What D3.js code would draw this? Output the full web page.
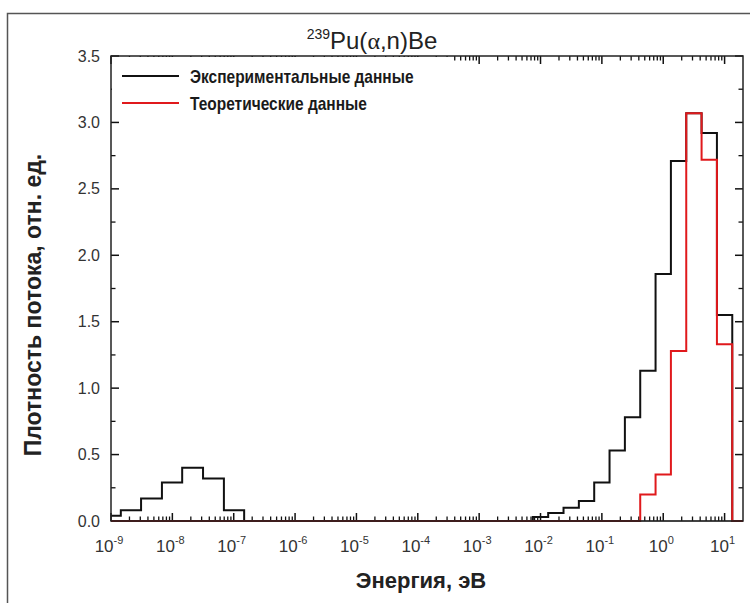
<!DOCTYPE html>
<html>
<head>
<meta charset="utf-8">
<script src="https://cdn.jsdelivr.net/npm/d3@7"></script>
<style>
  body { margin: 0; background: #fff; }
  text { font-family: "Liberation Sans", Arial, sans-serif; }
</style>
</head>
<body>
<div id="chart"></div>
<script>
// bin edges are log10(E, eV); values are per bin (edges.length - 1)
const expEdges = [-9, -8.84, -8.51, -8.17, -7.84, -7.5, -7.16, -6.83,
  -2.125, -1.875, -1.625, -1.375, -1.125, -0.875, -0.625, -0.375, -0.125,
  0.125, 0.375, 0.625, 0.875, 1.125, 1.3];
const expValues = [0.04, 0.08, 0.17, 0.29, 0.40, 0.32, 0.08, 0,
  0.03, 0.06, 0.10, 0.15, 0.29, 0.53, 0.78, 1.13, 1.86,
  2.71, 3.07, 2.92, 1.55, 0];

const theoryEdges = [-9, -0.375, -0.125, 0.125, 0.375, 0.625, 0.875, 1.125, 1.3];
const theoryValues = [0, 0.20, 0.35, 1.28, 3.07, 2.72, 1.33, 0];

const xDecades = [-9, -8, -7, -6, -5, -4, -3, -2, -1, 0, 1];
const yTicks = [0, 0.5, 1, 1.5, 2, 2.5, 3, 3.5];

const seriesNames = ["Экспериментальные данные", "Теоретические данные"];
const seriesColors = ["#111111", "#e0191c"];

const W = 750, H = 603;
const plot = { left: 111, right: 743, top: 56, bottom: 521 };

const svg = d3.select("#chart").append("svg")
  .attr("width", W).attr("height", H);

// outer frame (only left/top edges visible)
svg.append("path")
  .attr("d", `M7.5,${H} V13.5 H${W}`)
  .attr("fill", "none").attr("stroke", "#555").attr("stroke-width", 1.5);

const x = d3.scaleLog().domain([1e-9, Math.pow(10, 1.3)]).range([plot.left, plot.right]);
const y = d3.scaleLinear().domain([0, 3.5]).range([plot.bottom, plot.top]);

// step path from edges/values
function stepPath(edges, values) {
  const pts = values.map((v, i) => [Math.pow(10, edges[i]), v]);
  pts.push([Math.pow(10, edges[edges.length - 1]), values[values.length - 1]]);
  return d3.line()
    .x((d) => x(d[0]))
    .y((d) => y(d[1]))
    .curve(d3.curveStepAfter)(pts);
}

const g = svg.append("g");

// ticks: x (bottom + top, inward)
const minorX = [];
xDecades.forEach((p) => {
  for (let m = 2; m <= 9; m++) {
    const v = m * Math.pow(10, p);
    if (v <= x.domain()[1]) minorX.push(v);
  }
});
const majorX = xDecades.map((p) => Math.pow(10, p));

function xTicks(yPos, dir) {
  g.selectAll(null).data(majorX).enter().append("line")
    .attr("x1", (d) => x(d)).attr("x2", (d) => x(d))
    .attr("y1", yPos).attr("y2", yPos + dir * 8)
    .attr("stroke", "#111").attr("stroke-width", 1.5);
  g.selectAll(null).data(minorX).enter().append("line")
    .attr("x1", (d) => x(d)).attr("x2", (d) => x(d))
    .attr("y1", yPos).attr("y2", yPos + dir * 4.5)
    .attr("stroke", "#111").attr("stroke-width", 1.3);
}
xTicks(plot.bottom, -1);
xTicks(plot.top, 1);

// ticks: y (left + right, inward)
const minorY = d3.range(0.25, 3.5, 0.5);
function yTicksAt(xPos, dir) {
  g.selectAll(null).data(yTicks).enter().append("line")
    .attr("x1", xPos).attr("x2", xPos + dir * 8)
    .attr("y1", (d) => y(d)).attr("y2", (d) => y(d))
    .attr("stroke", "#111").attr("stroke-width", 1.5);
  g.selectAll(null).data(minorY).enter().append("line")
    .attr("x1", xPos).attr("x2", xPos + dir * 4.5)
    .attr("y1", (d) => y(d)).attr("y2", (d) => y(d))
    .attr("stroke", "#111").attr("stroke-width", 1.3);
}
yTicksAt(plot.left, 1);
yTicksAt(plot.right, -1);

// histograms
g.append("path")
  .attr("d", stepPath(expEdges, expValues))
  .attr("fill", "none").attr("stroke", seriesColors[0]).attr("stroke-width", 2);
g.append("path")
  .attr("d", stepPath(theoryEdges, theoryValues))
  .attr("fill", "none").attr("stroke", seriesColors[1]).attr("stroke-width", 2);
// darkened baseline
g.append("line")
  .attr("x1", plot.left).attr("x2", plot.right)
  .attr("y1", plot.bottom).attr("y2", plot.bottom)
  .attr("stroke", "#000").attr("stroke-opacity", 0.45).attr("stroke-width", 1.5);

// legend (white box hides top ticks)
svg.append("rect")
  .attr("x", plot.left + 1).attr("y", plot.top + 1)
  .attr("width", 338).attr("height", 62)
  .attr("fill", "#fff");

const legend = svg.selectAll(".legend").data(seriesNames).enter().append("g")
  .attr("class", "legend")
  .attr("transform", (d, i) => `translate(122,${76 + i * 27})`);
legend.append("line")
  .attr("x1", 0).attr("x2", 57)
  .attr("stroke", (d, i) => seriesColors[i]).attr("stroke-width", 2);
// narrow-looking bold labels
legend.append("text")
  .attr("transform", "translate(68,0) scale(0.815,1)")
  .attr("dy", ".36em")
  .attr("font-size", 19).attr("font-weight", "bold").attr("fill", "#1a1a1a")
  .text((d) => d);

// plot frame
svg.append("rect")
  .attr("x", plot.left).attr("y", plot.top)
  .attr("width", plot.right - plot.left).attr("height", plot.bottom - plot.top)
  .attr("fill", "none").attr("stroke", "#222").attr("stroke-width", 1.5);

// y tick labels
svg.selectAll(".ylab").data(yTicks).enter().append("text")
  .attr("class", "ylab")
  .attr("x", 100).attr("y", (d) => y(d))
  .attr("dy", ".35em").attr("text-anchor", "end")
  .attr("font-size", 16).attr("fill", "#333")
  .text((d) => d.toFixed(1));

// x tick labels 10^n
const xl = svg.selectAll(".xlab").data(xDecades).enter().append("text")
  .attr("class", "xlab")
  .attr("x", (d) => x(Math.pow(10, d)) - 2).attr("y", 552)
  .attr("text-anchor", "middle")
  .attr("font-size", 17).attr("fill", "#333");
xl.append("tspan").text("10");
xl.append("tspan").attr("dy", -8).attr("font-size", 11).text((d) => d < 0 ? "-" + (-d) : d);

// title
const title = svg.append("text")
  .attr("x", 372).attr("y", 49).attr("text-anchor", "middle")
  .attr("font-size", 24).attr("fill", "#222");
title.append("tspan").attr("font-size", 14).attr("dy", -10).text("239");
title.append("tspan").attr("dy", 10).text("Pu(");
title.append("tspan").attr("font-family", "'Liberation Serif', serif").text("α");
title.append("tspan").text(",n)Be");

// axis titles
svg.append("text")
  .attr("x", 421).attr("y", 588).attr("text-anchor", "middle")
  .attr("font-size", 22).attr("font-weight", "bold").attr("fill", "#222")
  .text("Энергия, эВ");
svg.append("text")
  .attr("transform", "translate(41,305) rotate(-90)")
  .attr("text-anchor", "middle")
  .attr("font-size", 23).attr("font-weight", "bold").attr("fill", "#222")
  .text("Плотность потока, отн. ед.");
</script>
</body>
</html>
